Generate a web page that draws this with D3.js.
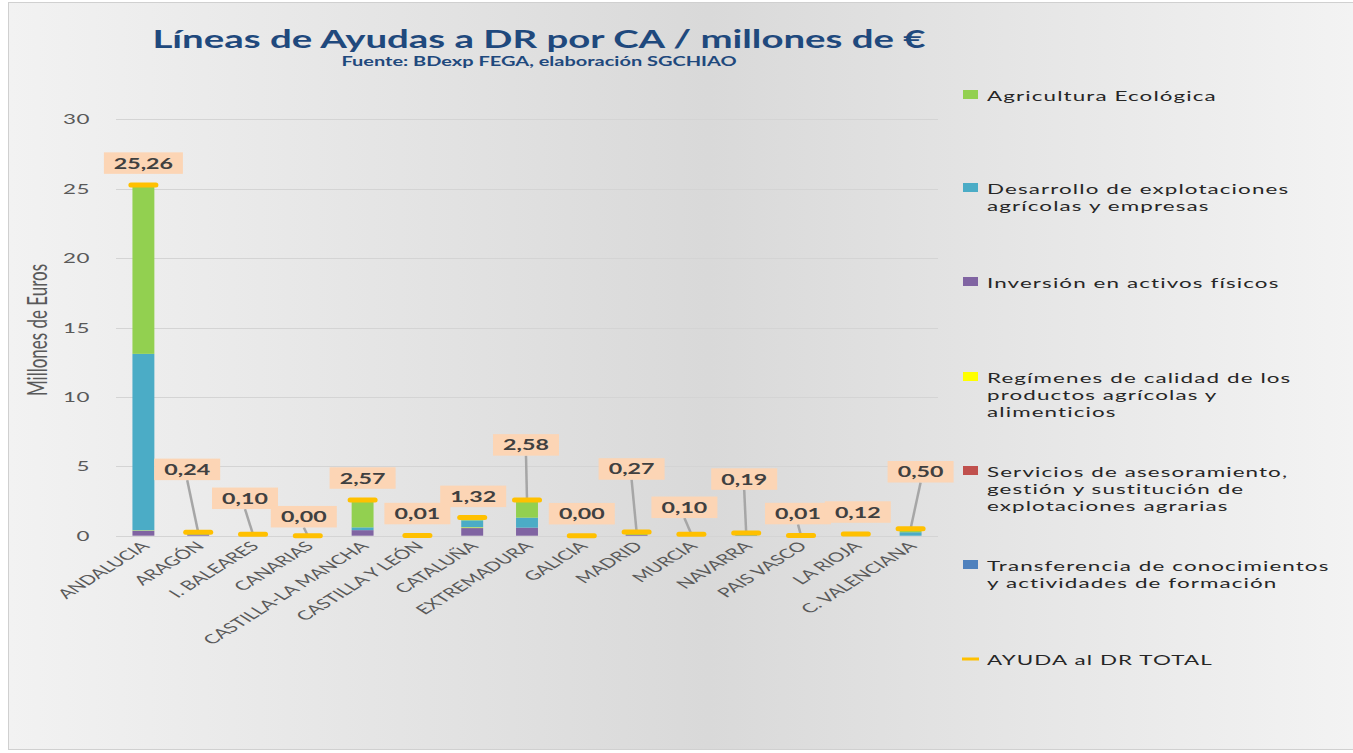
<!DOCTYPE html>
<html>
<head>
<meta charset="utf-8">
<script src="https://cdn.jsdelivr.net/npm/d3@7"></script>
<style>
  body { margin: 0; background: #fff; }
  svg { display: block; }
</style>
</head>
<body>
<div id="chart-area"></div>
<script>
// Data (millones de euros)
const regions = ['ANDALUCIA','ARAGÓN','I. BALEARES','CANARIAS','CASTILLA-LA MANCHA','CASTILLA Y LEÓN',
  'CATALUÑA','EXTREMADURA','GALICIA','MADRID','MURCIA','NAVARRA','PAIS VASCO','LA RIOJA','C. VALENCIANA'];

const transferencia = [0,    0,    0,    0, 0,    0,    0,    0,    0, 0,    0,    0,    0,    0,    0];
const servicios     = [0,    0,    0,    0, 0,    0,    0,    0,    0, 0,    0,    0,    0,    0,    0];
const inversion     = [0.35, 0.05, 0,    0, 0.40, 0,    0.55, 0.58, 0, 0.05, 0,    0,    0,    0,    0];
const regimenes     = [0.03, 0,    0,    0, 0,    0,    0.05, 0,    0, 0,    0,    0,    0,    0,    0];
const desarrollo    = [12.72,0.10, 0,    0, 0.20, 0,    0.50, 0.72, 0, 0,    0,    0.10, 0,    0,    0.25];
const agricultura   = [12.16,0.09, 0.10, 0, 1.97, 0.01, 0.22, 1.28, 0, 0.22, 0.10, 0.09, 0.01, 0.12, 0.25];
const totalAyuda    = [25.26,0.24, 0.10, 0.00, 2.57, 0.01, 1.32, 2.58, 0.00, 0.27, 0.10, 0.19, 0.01, 0.12, 0.50];

const yTicks = [0, 5, 10, 15, 20, 25, 30];

// label box offsets (px) relative to the total marker
const labelDx = [0, -11, -8, -4, 0, 0, 1, -1, 0, -5, -7, -2, -3, 2, 10];
const labelDy = [-22, -63, -36, -19, -22, -22, -21, -55, -22, -63, -27, -54, -22, -22, -57];

const seriesNames = [
  'Transferencia de conocimientos y actividades de formación',
  'Servicios de asesoramiento, gestión y sustitución de explotaciones agrarias',
  'Inversión en activos físicos',
  'Regímenes de calidad de los productos agrícolas y alimenticios',
  'Desarrollo de explotaciones agrícolas y empresas',
  'Agricultura Ecológica'
];
const seriesValues = [transferencia, servicios, inversion, regimenes, desarrollo, agricultura];
const seriesColors = ['#4f81bd', '#c0504d', '#8064a2', '#ffff00', '#4bacc6', '#92d050'];

// legend lines (wrapped like the original)
const legendLines = [
  ['Agricultura Ecológica'],
  ['Desarrollo de explotaciones', 'agrícolas y empresas'],
  ['Inversión en activos físicos'],
  ['Regímenes de calidad de los', 'productos agrícolas y', 'alimenticios'],
  ['Servicios de asesoramiento,', 'gestión y sustitución de', 'explotaciones agrarias'],
  ['Transferencia de conocimientos', 'y actividades de formación'],
  ['AYUDA al DR TOTAL']
];
const legendColors = ['#92d050', '#4bacc6', '#8064a2', '#ffff00', '#c0504d', '#4f81bd', '#ffc000'];

const W = 1353, H = 753;
const SX = 1.6;   // the original picture is stretched horizontally
const FONT = 'Lato, "Open Sans", sans-serif';
const plot = { left: 116, right: 938, top: 119.3, bottom: 535.7 };

const svg = d3.select('#chart-area').append('svg')
  .attr('width', W).attr('height', H);

// background gradient
const defs = svg.append('defs');
const grad = defs.append('linearGradient').attr('id', 'bg').attr('x1', '0').attr('x2', '1').attr('y1', '0').attr('y2', '0');
grad.append('stop').attr('offset', '0%').attr('stop-color', '#f2f2f2');
grad.append('stop').attr('offset', '52%').attr('stop-color', '#d9d9d9');
grad.append('stop').attr('offset', '100%').attr('stop-color', '#f3f3f3');

svg.append('rect')
  .attr('x', 8.5).attr('y', 2.5).attr('width', W - 8).attr('height', H - 6)
  .attr('fill', 'url(#bg)').attr('stroke', '#d0d0d0').attr('stroke-width', 1);

// helper: stretched text at (x,y)
function stext(parent, x, y, str, extra) {
  return parent.append('text')
    .attr('transform', 'translate(' + x + ',' + y + ') scale(' + SX + ',1)' + (extra || ''))
    .attr('font-family', FONT)
    .text(str);
}

// title
stext(svg, 539, 48, 'Líneas de Ayudas a DR por CA / millones de €')
  .attr('text-anchor', 'middle')
  .attr('font-weight', 700).attr('font-size', '24px')
  .attr('fill', '#1f497d');
stext(svg, 539, 66, 'Fuente: BDexp FEGA, elaboración SGCHIAO')
  .attr('text-anchor', 'middle')
  .attr('font-weight', 700).attr('font-size', '12.5px')
  .attr('fill', '#1f497d');

// scales
const x = d3.scaleBand()
  .domain(regions)
  .range([plot.left, plot.right])
  .paddingInner(0.6)
  .paddingOuter(0.3);

const y = d3.scaleLinear()
  .domain([0, 30])
  .range([plot.bottom, plot.top]);

// gridlines
svg.append('g')
  .selectAll('line').data(yTicks).enter().append('line')
  .attr('x1', plot.left).attr('x2', plot.right)
  .attr('y1', d => Math.round(y(d)) + 0.5).attr('y2', d => Math.round(y(d)) + 0.5)
  .attr('stroke', '#d4d4d4').attr('stroke-width', 1.2);

// y axis tick labels
const yAxisGroup = svg.append('g');
yTicks.forEach(d => {
  stext(yAxisGroup, 90, y(d) + 5, d3.format('d')(d))
    .attr('text-anchor', 'end')
    .attr('font-size', '14px')
    .attr('letter-spacing', '0.3px')
    .attr('fill', '#595959');
});

// y axis label
stext(svg, 47, 330, 'Millones de Euros', ' rotate(-90)')
  .attr('text-anchor', 'middle')
  .attr('font-size', '17px')
  .attr('fill', '#595959');

// x axis labels
const cx = i => x(regions[i]) + x.bandwidth() / 2;
const xAxisGroup = svg.append('g');
regions.forEach((r, i) => {
  stext(xAxisGroup, cx(i) + 7, 547, r, ' rotate(-45)')
    .attr('text-anchor', 'end')
    .attr('font-size', '13px')
    .attr('fill', '#595959');
});

// stacked bars
const table = regions.map((r, i) => {
  const row = { region: r };
  seriesNames.forEach((s, k) => { row[s] = seriesValues[k][i]; });
  return row;
});
const stacked = d3.stack().keys(seriesNames)(table);

svg.append('g').selectAll('g').data(stacked).enter().append('g')
  .attr('fill', (d, k) => seriesColors[k])
  .selectAll('rect').data(d => d).enter().append('rect')
  .attr('x', d => x(d.data.region))
  .attr('width', x.bandwidth())
  .attr('y', d => y(d[1]))
  .attr('height', d => y(d[0]) - y(d[1]));

// data labels with leader lines
const labels = svg.append('g');
totalAyuda.forEach((v, i) => {
  const mx = cx(i), my = y(v);
  const bx = mx + labelDx[i], by = my + labelDy[i];
  const txt = v.toFixed(2).replace('.', ',');
  const bw = txt.length > 4 ? 79 : 66, bh = 21.5;
  if (Math.abs(labelDx[i]) > 2 || labelDy[i] < -30) {
    labels.append('line')
      .attr('x1', bx).attr('y1', by + bh / 2)
      .attr('x2', mx).attr('y2', my)
      .attr('stroke', '#a6a6a6').attr('stroke-width', 2.5);
  }
  labels.append('rect')
    .attr('x', bx - bw / 2).attr('y', by - bh / 2)
    .attr('width', bw).attr('height', bh)
    .attr('fill', '#fcd5b5');
  stext(labels, bx, by + 5.5, txt)
    .attr('text-anchor', 'middle')
    .attr('font-weight', 700).attr('font-size', '14.5px')
    .attr('fill', '#404040');
});

// total markers
svg.append('g').selectAll('line').data(totalAyuda).enter().append('line')
  .attr('x1', (d, i) => cx(i) - 12.5).attr('x2', (d, i) => cx(i) + 12.5)
  .attr('y1', d => y(d)).attr('y2', d => y(d))
  .attr('stroke', '#ffc000').attr('stroke-width', 5)
  .attr('stroke-linecap', 'round');

// legend
const legendTop = [96, 189, 283, 378, 472, 566, 660];
const legend = svg.append('g');
legendLines.forEach((lines, k) => {
  const ly = legendTop[k];
  if (k === legendLines.length - 1) {
    legend.append('line')
      .attr('x1', 962).attr('x2', 979).attr('y1', ly - 1).attr('y2', ly - 1)
      .attr('stroke', legendColors[k]).attr('stroke-width', 3);
  } else {
    legend.append('rect')
      .attr('x', 963).attr('y', ly - 6).attr('width', 15).attr('height', 9)
      .attr('fill', legendColors[k]);
  }
  lines.forEach((ln, j) => {
    stext(legend, 987, ly + 5 + j * 17, ln)
      .attr('font-size', '14px')
      .attr('letter-spacing', '0.7px')
      .attr('fill', '#262626');
  });
});
</script>
</body>
</html>
